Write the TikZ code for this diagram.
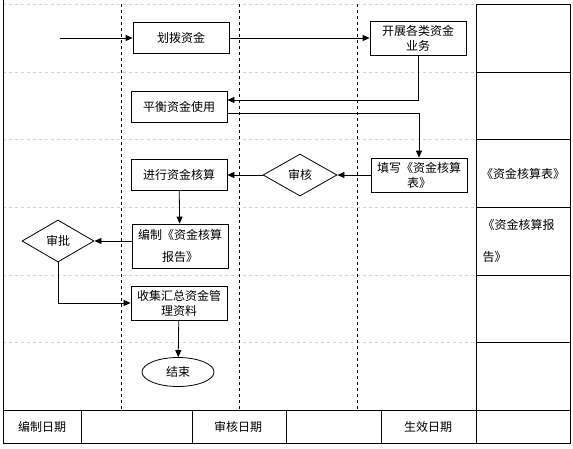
\documentclass[tikz,border=0pt]{standalone}
\usepackage{fontspec}
\setmainfont{Noto Sans CJK SC}
\usetikzlibrary{arrows.meta,shapes.geometric}

\tikzset{
  procbox/.style={draw, minimum width=96pt, minimum height=31pt, align=center, inner sep=1pt},
  judge/.style={draw, diamond, minimum width=74pt, minimum height=42pt, inner sep=0pt},
  endnode/.style={draw, ellipse, minimum width=72pt, minimum height=29pt, inner sep=0pt},
  flow/.style={-{Triangle[length=7pt,width=6pt]}},
}

\begin{document}
\begin{tikzpicture}[x=1pt,y=-1pt,line width=0.8pt,font=\fontsize{12}{15}\selectfont]
\useasboundingbox (0,0) rectangle (573,448);
\foreach \y in {4,72,139,207,275,342} % gray row lines
\draw[gray!35,dashed,line width=0.6pt] (3,\y) -- (476,\y);
\foreach \x in {121,239,357} % lane borders
\draw[dashed] (\x,4) -- (\x,410);
\draw (3,0) -- (3,410);
% right column
\draw (476,4) rectangle (570,410);
\foreach \y in {72,139,207,275,342}
\draw (476,\y) -- (570,\y);
% bottom table
\draw (3,410) rectangle (570,443);
\foreach \x in {81,192,286,381,476}
\draw (\x,410) -- (\x,443);

\node[procbox] (huabo) at (181,38) {划拨资金};
\node[procbox, minimum height=34pt] (kaizhan) at (418,38) {开展各类资金\\业务};
\node[procbox] (pingheng) at (179,107) {平衡资金使用};
\node[procbox, minimum height=34pt] (tianxie) at (419,175) {填写《资金核算\\表》};
\node[judge] (shenhe) at (300,175) {审核};
\node[procbox] (hesuan) at (179,175) {进行资金核算};
\node[procbox, minimum height=44pt, font=\fontsize{12}{22}\selectfont] (bianzhi) at (180,246) {编制《资金核算\\报告》};
\node[judge, minimum width=72pt] (shenpi) at (58,241) {审批};
\node[procbox, minimum height=34pt] (shouji) at (179,303) {收集汇总资金管\\理资料};
\node[endnode] (jieshu) at (178,372) {结束};
\coordinate (start) at (60,38);

\draw[flow] (start) -- (huabo);
\draw[flow] (huabo) -- (kaizhan);
\draw[flow] (kaizhan.south) |- ([yshift=7pt]pingheng.east);
\draw[flow] ([yshift=-6pt]pingheng.east) -| (tianxie.north);
\draw[flow] (tianxie) -- (shenhe);
\draw[flow] (shenhe) -- (hesuan);
\draw[flow] (hesuan) -- (bianzhi);
\draw[flow] (bianzhi.west |- shenpi.east) -- (shenpi.east);
\draw[flow] (shenpi.south) |- (shouji.west);
\draw[flow] (shouji) -- (jieshu);

% documents
\node (biao) at (523,174) {《资金核算表》};
\node[align=left, anchor=west, font=\fontsize{12}{32}\selectfont] (baogao) at (479,241) {《资金核算报\\告》};

\node (bzrq) at (42,427) {编制日期};
\node (shrq) at (238,427) {审核日期};
\node (sxrq) at (428,427) {生效日期};
\end{tikzpicture}
\end{document}
